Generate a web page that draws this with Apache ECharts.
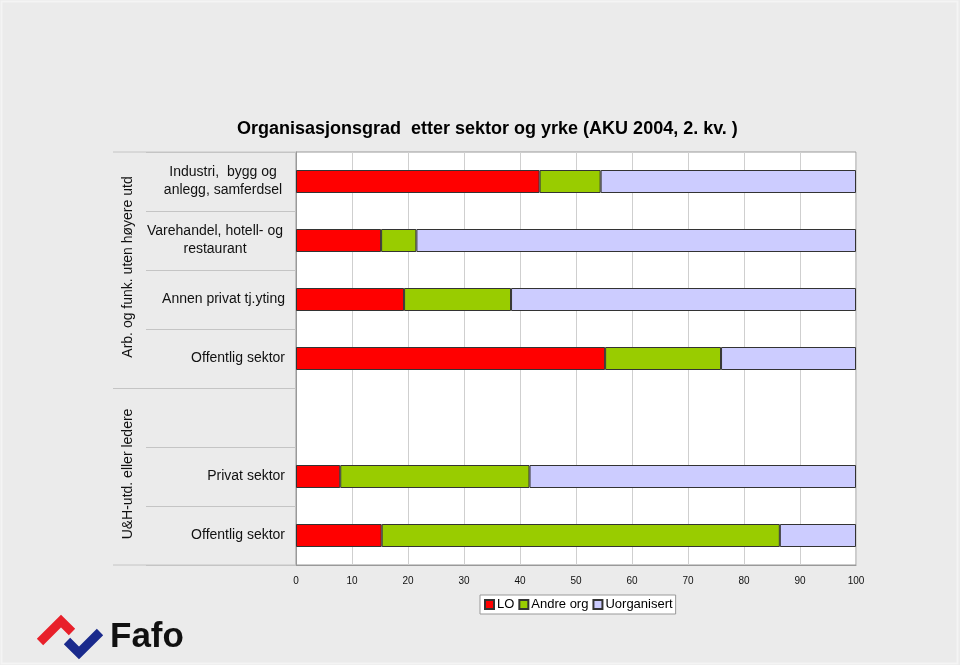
<!DOCTYPE html>
<html>
<head>
<meta charset="utf-8">
<script src="https://cdn.jsdelivr.net/npm/echarts@6/dist/echarts.min.js"></script>
<style>
html,body{margin:0;padding:0;background:#ebebeb;}
#c{width:960px;height:665px;}
</style>
</head>
<body>
<div id="c"></div>
<script>
const titleText = 'Organisasjonsgrad  etter sektor og yrke (AKU 2004, 2. kv. )';
const categories = ['Industri,  bygg og\nanlegg, samferdsel', 'Varehandel, hotell- og\nrestaurant', 'Annen privat tj.yting', 'Offentlig sektor', '', 'Privat sektor', 'Offentlig sektor'];
const groups = ['Arb. og funk. uten høyere utd', 'U&H-utd. eller ledere'];
const seriesNames = ['LO', 'Andre org', 'Uorganisert'];
const loValues = [43.5, 15.2, 19.3, 55.2, null, 7.9, 15.3];
const andreValues = [10.9, 6.3, 19.1, 20.7, null, 33.8, 71.1];
const uorgValues = [45.6, 78.5, 61.6, 24.1, null, 58.3, 13.6];
const xTicks = [0, 10, 20, 30, 40, 50, 60, 70, 80, 90, 100];

const colors = ['#ff0000', '#99cc00', '#ccccff'];
const font = 'Liberation Sans, Arial, sans-serif';

const chart = echarts.init(document.getElementById('c'), null, {renderer: 'canvas'});

const richWidths = {0: 124, 1: 140};
function labelFmt(v, i) {
  if (v.indexOf('\n') >= 0) {
    const key = 'w' + i;
    return v.split('\n').map(s => '{' + key + '|' + s + '}').join('\n');
  }
  return v;
}
const rich = {};
Object.keys(richWidths).forEach(k => {
  rich['w' + k] = {width: richWidths[k], align: 'center', fontSize: 14, lineHeight: 18, fontFamily: font, color: '#111'};
});

const dataSets = [loValues, andreValues, uorgValues];

chart.setOption({
  backgroundColor: '#ebebeb',
  animation: false,
  title: {
    text: titleText,
    left: 232,
    top: 115,
    textStyle: {fontFamily: font, fontSize: 18, fontWeight: 'bold', color: '#000'}
  },
  legend: {
    data: seriesNames,
    left: 480,
    top: 595,
    orient: 'horizontal',
    backgroundColor: '#fff',
    borderColor: '#999',
    borderWidth: 1,
    borderRadius: 0,
    padding: [3, 3, 3, 4],
    itemWidth: 9,
    itemHeight: 9,
    itemGap: 4,
    icon: 'rect',
    textStyle: {fontFamily: font, fontSize: 13, color: '#000', padding: [0, 0, 0, -2]}
  },
  grid: {
    left: 296, right: 104, top: 152, bottom: 100,
    show: true, backgroundColor: '#fff', borderColor: '#999', borderWidth: 1
  },
  xAxis: {
    type: 'value', min: 0, max: 100, interval: 10,
    axisLine: {show: true, lineStyle: {color: '#999'}},
    axisTick: {show: false},
    splitLine: {show: true, lineStyle: {color: '#cfcfcf', width: 1}},
    axisLabel: {
      fontFamily: font, fontSize: 10, color: '#111', margin: 11,
      formatter: v => (xTicks.indexOf(v) >= 0 ? String(v) : '')
    }
  },
  yAxis: {
    type: 'category', inverse: true, data: categories,
    axisLine: {show: true, lineStyle: {color: '#999'}},
    axisTick: {show: true, length: 150, interval: 0, lineStyle: {color: '#c4c4c4'}},
    axisLabel: {
      interval: 0, margin: 11, fontFamily: font, fontSize: 14, color: '#111', lineHeight: 18,
      formatter: labelFmt, rich: rich
    }
  },
  series: seriesNames.map((n, k) => ({
    name: n, type: 'bar', stack: 'total', barWidth: 23,
    data: dataSets[k],
    itemStyle: {color: colors[k], borderColor: '#333', borderWidth: 1}
  })),
  graphic: [
    {type: 'rect', shape: {x: 1.5, y: 1.5, width: 956, height: 662}, style: {fill: null, stroke: '#f4f4f4', lineWidth: 2}, silent: true},
    {type: 'line', shape: {x1: 113, y1: 152, x2: 296, y2: 152}, style: {stroke: '#c4c4c4', lineWidth: 1}},
    {type: 'line', shape: {x1: 113, y1: 388.5, x2: 296, y2: 388.5}, style: {stroke: '#c4c4c4', lineWidth: 1}},
    {type: 'line', shape: {x1: 113, y1: 565, x2: 296, y2: 565}, style: {stroke: '#c4c4c4', lineWidth: 1}},
    {type: 'text', x: 128, y: 267, rotation: Math.PI / 2,
     style: {text: groups[0], fontFamily: font, fontSize: 14, fill: '#111', align: 'center', verticalAlign: 'middle'}},
    {type: 'text', x: 128, y: 474, rotation: Math.PI / 2,
     style: {text: groups[1], fontFamily: font, fontSize: 14, fill: '#111', align: 'center', verticalAlign: 'middle'}},
    {type: 'polyline', shape: {points: [[40, 642], [61, 621], [72, 632]]},
     style: {stroke: '#e8202a', lineWidth: 9, fill: null, lineJoin: 'miter'}},
    {type: 'polyline', shape: {points: [[67, 641], [79, 653], [100, 632]]},
     style: {stroke: '#1a2a8c', lineWidth: 9, fill: null, lineJoin: 'miter'}},
    {type: 'text', x: 110, y: 637,
     style: {text: 'Fafo', fontFamily: font, fontSize: 35, fontWeight: 'bold', fill: '#111', verticalAlign: 'middle'}}
  ]
});
</script>
</body>
</html>
